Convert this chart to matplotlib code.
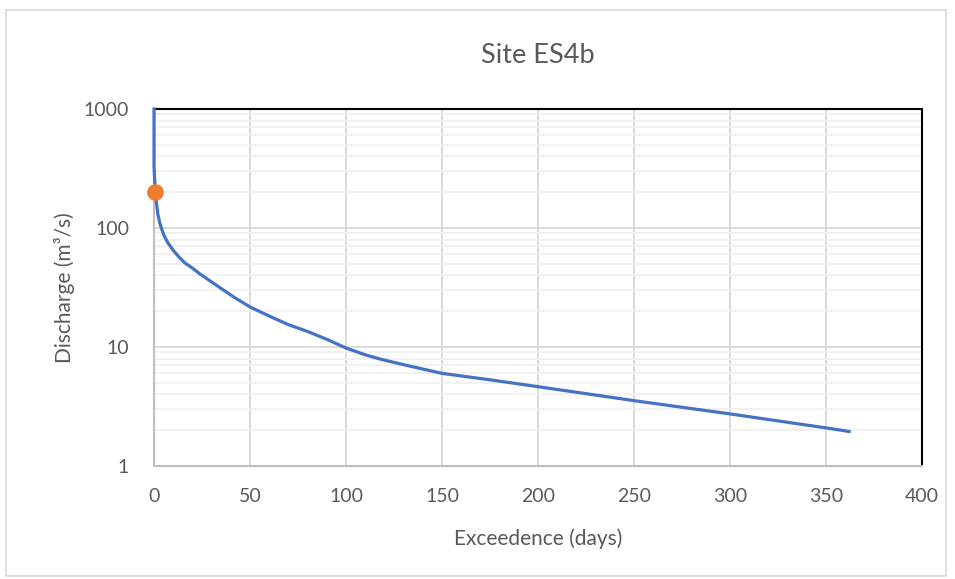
import matplotlib.pyplot as plt
from matplotlib.patches import Rectangle
from matplotlib.ticker import LogLocator, NullFormatter, FixedLocator, FixedFormatter

plt.rcParams['font.family'] = ['Lato', 'DejaVu Sans']

# flow duration curve
days = [0, 0, 0.2, 0.6, 1.2, 2, 3, 4, 5, 7, 10, 13, 16, 20, 24, 28, 35, 42, 50,
        60, 70, 80, 90, 100, 110, 118, 130, 150, 175, 200, 250, 300, 350, 362]
discharge = [1000, 330, 280, 210, 165, 130, 110, 98, 88, 76, 65, 57, 51, 46,
             41, 37, 31, 26, 21.7, 18.2, 15.4, 13.5, 11.6, 9.8, 8.6, 7.9, 7.1,
             6.0, 5.3, 4.64, 3.54, 2.74, 2.09, 1.95]

# highlighted point
pt_day = [0.5]
pt_q = [200]

x_ticks = [0, 50, 100, 150, 200, 250, 300, 350, 400]
y_ticks = [1, 10, 100, 1000]
y_labels = ['1', '10', '100', '1000']

txt = '#595959'

fig = plt.figure(figsize=(9.55, 5.79), dpi=100)
ax = fig.add_axes([0.1613, 0.1952, 0.8041, 0.6165])

ax.plot(days, discharge, color='#4472C4', lw=2.3, zorder=3, clip_on=False)
ax.plot(pt_day, pt_q, 'o', color='#ED7D31', ms=11, zorder=4, clip_on=False)

ax.set_yscale('log')
ax.set_xlim(0, 400)
ax.set_ylim(1, 1000)
ax.xaxis.set_major_locator(FixedLocator(x_ticks))
ax.yaxis.set_major_locator(FixedLocator(y_ticks))
ax.yaxis.set_major_formatter(FixedFormatter(y_labels))
ax.yaxis.set_minor_locator(LogLocator(base=10, subs=range(2, 10)))
ax.yaxis.set_minor_formatter(NullFormatter())

ax.grid(True, which='major', color='#d9d9d9', lw=1.3, zorder=0)
ax.grid(True, which='minor', axis='y', color='#f0f0f0', lw=1.3, zorder=0)
ax.set_axisbelow(True)

ax.tick_params(axis='both', which='both', length=0, colors=txt, labelsize=14)
ax.tick_params(axis='x', pad=16)
ax.tick_params(axis='y', pad=18)

for s in ['top', 'right']:
    ax.spines[s].set_color('black')
    ax.spines[s].set_linewidth(1.5)
for s in ['left', 'bottom']:
    ax.spines[s].set_color('#bfbfbf')
    ax.spines[s].set_linewidth(1.5)

ax.set_title('Site ES4b', fontsize=19.5, color=txt, pad=33)
ax.set_xlabel('Exceedence (days)', fontsize=15, color=txt, labelpad=17)
ax.set_ylabel('Discharge (m³/s)', fontsize=15, color=txt, labelpad=6)

# chart frame
fig.patches.append(Rectangle((0.006, 0.005), 0.985, 0.978, transform=fig.transFigure,
                             fill=False, edgecolor='#d9d9d9', lw=1.2))

fig.savefig('out.png', dpi=100)
